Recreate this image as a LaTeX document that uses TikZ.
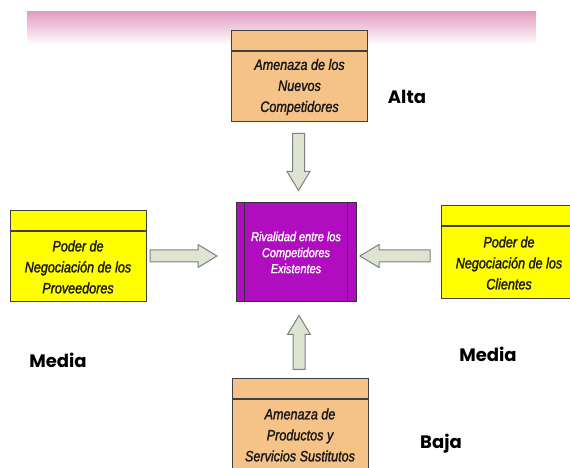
\documentclass[tikz,border=0pt]{standalone}
\usepackage{fontspec}
\setmainfont{Liberation Sans}
\newfontfamily\cajafont{Liberation Sans}[FakeStretch=0.84, FakeBold=1.6]
\newfontfamily\nivelfont{Poppins}
\usetikzlibrary{positioning,calc}
\definecolor{naranja}{RGB}{245,194,135}
\definecolor{amarillo}{RGB}{255,255,0}
\definecolor{morado}{RGB}{176,12,192}
\definecolor{flechagris}{RGB}{222,228,210}
\definecolor{rosa}{RGB}{226,158,196}

\begin{document}
\begin{tikzpicture}[x=1pt,y=1pt,
  caja/.style={draw=black!75, line width=1pt, minimum width=136pt, minimum height=70pt,
    align=center, text=black!90, font=\cajafont\itshape\fontsize{15}{21}\selectfont},
  cabeza/.style={draw=black!75, line width=1pt, minimum width=136pt, minimum height=20pt},
  nivel/.style={font=\nivelfont\bfseries\fontsize{18}{20}\selectfont},
  pics/flecha/.style={code={
    \draw[draw=black!50, fill=flechagris, line width=1pt]
      (0,-6) -- ({#1-19},-6) -- ({#1-19},-11.5) -- (#1,0) -- ({#1-19},11.5) -- ({#1-19},6) -- (0,6) -- cycle;}}]
  \useasboundingbox (0,0) rectangle (570,468);
  \clip (0,0) rectangle (570,468);
  \shade[top color=rosa, bottom color=white] (27,423) rectangle (536,456);

  \node[caja, fill=naranja] (nuevos) at (299.5,381) {Amenaza de los\\Nuevos\\Competidores};
  \node[cabeza, fill=naranja, above=0pt of nuevos] (nuevosh) {};
  \node[caja, fill=amarillo] (prov) at (78,201) {Poder de\\Negociación de los\\Proveedores};
  \node[cabeza, fill=amarillo, above=0pt of prov] (provh) {};
  \node[caja, fill=amarillo, minimum height=72pt] (cli) at (509,205) {Poder de\\Negociación de los\\Clientes};
  \node[cabeza, fill=amarillo, above=0pt of cli] (clih) {};
  \node[caja, fill=naranja] (sust) at (300,33) {Amenaza de\\Productos y\\Servicios Sustitutos};
  \node[cabeza, fill=naranja, above=0pt of sust] (susth) {};

  \node[draw=black!80, line width=1pt, fill=morado, minimum width=120pt, minimum height=99pt,
    align=center, text=white, font=\cajafont\itshape\fontsize{13}{16}\selectfont]
    (rival) at (296,215.5) {Rivalidad entre los\\Competidores\\Existentes};
  \draw[black!80, line width=1pt] ($(rival.north west)+(9,0)$) -- ($(rival.south west)+(9,0)$);
  \draw[black!80, line width=1pt] ($(rival.north east)+(-9,0)$) -- ($(rival.south east)+(-9,0)$);

  \pic[rotate=-90] at ($(nuevos.south)+(-1,-11)$) {flecha=57};
  \pic at (150,212) {flecha=67};
  \pic[rotate=180] at (430,212) {flecha=70};
  \pic[rotate=90] at ($(sust |- susth.north)+(-1,9)$) {flecha=54};

  \node[nivel] (alta) at (407,371) {Alta};
  \node[nivel] (media1) at (58,108) {Media};
  \node[nivel] (media2) at (488,114) {Media};
  \node[nivel] (baja) at (441,24) {Baja};
\end{tikzpicture}
\end{document}
